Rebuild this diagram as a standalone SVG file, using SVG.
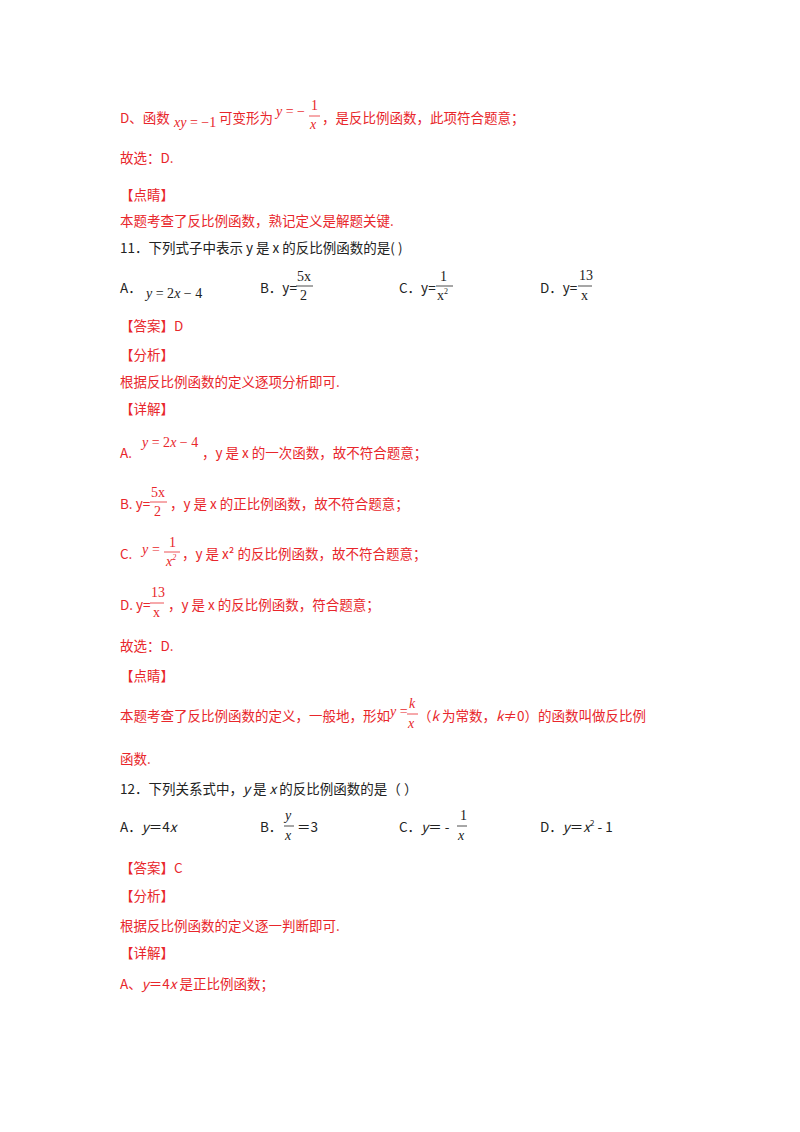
<svg xmlns="http://www.w3.org/2000/svg" width="800" height="1132" viewBox="0 0 800 1132">
<style>
text{font-family:"Noto Sans CJK SC","Liberation Sans",sans-serif;font-size:13.5px}
.r{fill:#e8262b}
.k{fill:#222}
.m{font-family:"Liberation Serif","Noto Sans CJK SC",serif;font-size:14px}
.i{font-style:italic}
line{stroke-width:0.8}
.lr{stroke:#e8262b}
.lk{stroke:#222}
</style>
<rect width="800" height="1132" fill="#fff"/>
<g class="r">
<text x="120" y="123">D、函数</text>
<text x="174" y="127" class="m"><tspan class="i">xy</tspan> = −1</text>
<text x="219" y="123">可变形为</text>
<text x="276" y="116" class="m"><tspan class="i">y</tspan> = −</text>
<text x="311" y="110" class="m">1</text>
<line x1="309" y1="116" x2="320" y2="116" class="lr"/>
<text x="310" y="129" class="m i">x</text>
<text x="322" y="123">，是反比例函数，此项符合题意；</text>
<text x="120" y="163">故选：D.</text>
<text x="120" y="200">【点睛】</text>
<text x="120" y="226">本题考查了反比例函数，熟记定义是解题关键.</text>
</g>
<g class="k">
<text x="120" y="253">11．下列式子中表示 y 是 x 的反比例函数的是(       )</text>
<text x="120" y="293">A．</text>
<text x="146" y="298" class="m"><tspan class="i">y</tspan> = 2<tspan class="i">x</tspan> − 4</text>
<text x="260" y="293">B．y=</text>
<text x="297" y="281" class="m">5x</text>
<line x1="296" y1="286" x2="313" y2="286" class="lk"/>
<text x="300" y="300" class="m">2</text>
<text x="399" y="293">C．y=</text>
<text x="440" y="281" class="m">1</text>
<line x1="436" y1="286" x2="453" y2="286" class="lk"/>
<text x="437" y="300" class="m">x<tspan font-size="8" dy="-6">2</tspan></text>
<text x="540" y="293">D．y=</text>
<text x="579" y="280" class="m">13</text>
<line x1="578" y1="286" x2="592" y2="286" class="lk"/>
<text x="581" y="300" class="m">x</text>
</g>
<g class="r">
<text x="120" y="331">【答案】D</text>
<text x="120" y="360">【分析】</text>
<text x="120" y="387">根据反比例函数的定义逐项分析即可.</text>
<text x="120" y="414">【详解】</text>
<text x="120" y="458">A.</text>
<text x="142" y="447" class="m"><tspan class="i">y</tspan> = 2<tspan class="i">x</tspan> − 4</text>
<text x="202" y="458">，y 是 x 的一次函数，故不符合题意；</text>
<text x="120" y="509">B. y=</text>
<text x="151" y="497" class="m">5x</text>
<line x1="150" y1="502" x2="167" y2="502" class="lr"/>
<text x="154" y="516" class="m">2</text>
<text x="170" y="509">，y 是 x 的正比例函数，故不符合题意；</text>
<text x="120" y="559">C.</text>
<text x="142" y="554" class="m i">y</text>
<text x="152" y="554" class="m">=</text>
<text x="169" y="547" class="m">1</text>
<line x1="164" y1="552" x2="180" y2="552" class="lr"/>
<text x="166" y="566" class="m i">x<tspan font-size="8" dy="-6">2</tspan></text>
<text x="182" y="559">，y 是 x² 的反比例函数，故不符合题意；</text>
<text x="120" y="610">D. y=</text>
<text x="151" y="597" class="m">13</text>
<line x1="150" y1="603" x2="164" y2="603" class="lr"/>
<text x="153" y="617" class="m">x</text>
<text x="168" y="610">，y 是 x 的反比例函数，符合题意；</text>
<text x="120" y="651">故选：D.</text>
<text x="120" y="681">【点睛】</text>
<text x="120" y="721">本题考查了反比例函数的定义，一般地，形如</text>
<text x="390" y="716" class="m"><tspan class="i">y</tspan> =</text>
<text x="409" y="708" class="m i">k</text>
<line x1="407" y1="714" x2="418" y2="714" class="lr"/>
<text x="408" y="728" class="m i">x</text>
<text x="418" y="721">（<tspan font-style="italic">k</tspan> 为常数，<tspan font-style="italic">k</tspan>≠0）的函数叫做反比例</text>
<text x="120" y="764">函数.</text>
</g>
<g class="k">
<text x="120" y="794">12．下列关系式中，<tspan font-style="italic">y</tspan> 是 <tspan font-style="italic">x</tspan> 的反比例函数的是（       ）</text>
<text x="120" y="832">A．<tspan font-style="italic">y</tspan>＝4<tspan font-style="italic">x</tspan></text>
<text x="260" y="832">B．</text>
<text x="285" y="820" class="m i">y</text>
<line x1="284" y1="826" x2="294" y2="826" class="lk"/>
<text x="285" y="840" class="m i">x</text>
<text x="297" y="832">＝3</text>
<text x="399" y="832">C．<tspan font-style="italic">y</tspan>＝ -</text>
<text x="460" y="820" class="m">1</text>
<line x1="457" y1="826" x2="467" y2="826" class="lk"/>
<text x="458" y="840" class="m i">x</text>
<text x="540" y="832">D．<tspan font-style="italic">y</tspan>＝<tspan font-style="italic">x</tspan><tspan font-size="8" dy="-6">2</tspan><tspan dy="6"> - 1</tspan></text>
</g>
<g class="r">
<text x="120" y="873">【答案】C</text>
<text x="120" y="901">【分析】</text>
<text x="120" y="931">根据反比例函数的定义逐一判断即可.</text>
<text x="120" y="958">【详解】</text>
<text x="120" y="989">A、<tspan font-style="italic">y</tspan>＝4<tspan font-style="italic">x</tspan> 是正比例函数；</text>
</g>
</svg>
